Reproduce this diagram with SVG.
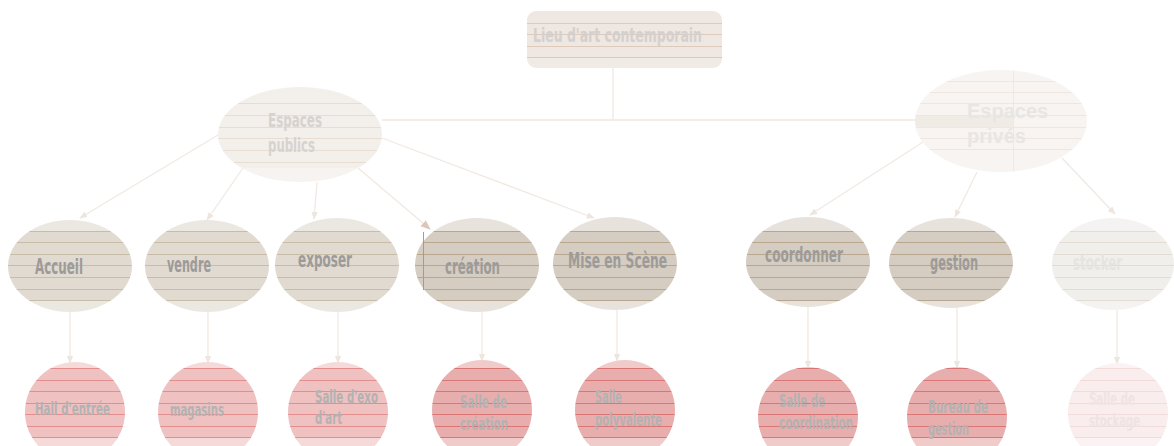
<svg xmlns="http://www.w3.org/2000/svg" width="1174" height="446" viewBox="0 0 1174 446">
<style>
.t{font-family:"DejaVu Sans","Liberation Sans",sans-serif;font-weight:bold;font-stretch:condensed}
.t2{font-size:21px;fill:#9d9b99}
.t3{font-size:18px;fill:#b3b2b2}
.tl{fill:#e6e4e2}
.tl3{fill:#f0e3e3}
.top{font-size:20px;fill:#d4d0cd}
.pub{font-size:19px;fill:#d6d3cf}
.priv{font-family:"Liberation Sans",Arial,sans-serif;font-weight:bold;font-size:20px;fill:#e8e6e4}
.c{fill:none;stroke:#f1e9e3;stroke-width:1.3}
</style>
<defs>
<marker id="ar" viewBox="0 0 10 10" refX="9" refY="5" markerWidth="8" markerHeight="8" markerUnits="userSpaceOnUse" orient="auto">
<path d="M0,1 L10,5 L0,9 z" fill="#eee5de"/>
</marker>
<marker id="ard" viewBox="0 0 10 10" refX="9" refY="5" markerWidth="10" markerHeight="10" markerUnits="userSpaceOnUse" orient="auto">
<path d="M0,1 L10,5 L0,9 z" fill="#dcc6b8"/>
</marker>
<pattern id="pTop" patternUnits="userSpaceOnUse" x="0" y="0" width="1174" height="446">
<rect width="1174" height="446" fill="#efe7e1"/>
<rect y="58" width="1174" height="12" fill="#f1ebe6"/>
<g fill="#dccabc"><rect y="23" width="1174" height="1"/><rect y="34" width="1174" height="1"/><rect y="46" width="1174" height="1"/><rect y="57" width="1174" height="1"/></g>
</pattern>
<pattern id="pPub" patternUnits="userSpaceOnUse" x="0" y="0" width="1174" height="446">
<rect width="1174" height="446" fill="#f3efeb"/>
<rect y="168" width="1174" height="20" fill="#f6f3f0"/>
<g fill="#e9ddd1"><rect y="103" width="1174" height="1"/><rect y="115" width="1174" height="1"/><rect y="127" width="1174" height="1"/><rect y="138" width="1174" height="1"/><rect y="150" width="1174" height="1"/><rect y="162" width="1174" height="1"/></g>
</pattern>
<pattern id="pPriv" patternUnits="userSpaceOnUse" x="0" y="0" width="1174" height="446">
<rect width="1174" height="446" fill="#f7f4f1"/>
<rect x="900" y="115" width="113" height="12" fill="#f1ebe5"/>
<rect x="1013" y="60" width="1" height="120" fill="#efe9e3"/>
<g fill="#efe7df"><rect y="81" width="1174" height="1"/><rect y="92" width="1174" height="1"/><rect y="103" width="1174" height="1"/><rect y="115" width="1174" height="1"/><rect y="127" width="1174" height="1"/><rect y="138" width="1174" height="1"/><rect y="149" width="1174" height="1"/></g>
</pattern>
<pattern id="pL2" patternUnits="userSpaceOnUse" x="0" y="0" width="1174" height="446">
<rect width="1174" height="446" fill="#ebe7e1"/>
<rect y="231" width="1174" height="70" fill="#e1dad0"/>
<g fill="#c8bca8"><rect y="231" width="1174" height="1"/><rect y="242" width="1174" height="1"/><rect y="254" width="1174" height="1"/><rect y="265" width="1174" height="1"/><rect y="277" width="1174" height="1"/><rect y="289" width="1174" height="1"/><rect y="300" width="1174" height="1"/></g>
</pattern>
<pattern id="pL2d" patternUnits="userSpaceOnUse" x="0" y="0" width="1174" height="446">
<rect width="1174" height="446" fill="#e7e2db"/>
<rect y="231" width="1174" height="70" fill="#d5cdc1"/>
<g fill="#b8a68e"><rect y="231" width="1174" height="1"/><rect y="242" width="1174" height="1"/><rect y="254" width="1174" height="1"/><rect y="265" width="1174" height="1"/><rect y="277" width="1174" height="1"/><rect y="289" width="1174" height="1"/><rect y="300" width="1174" height="1"/></g>
</pattern>
<pattern id="pL2l" patternUnits="userSpaceOnUse" x="0" y="0" width="1174" height="446">
<rect width="1174" height="446" fill="#f5f3f1"/>
<rect y="231" width="1174" height="70" fill="#f1efec"/>
<g fill="#e2dcd3"><rect y="231" width="1174" height="1"/><rect y="242" width="1174" height="1"/><rect y="254" width="1174" height="1"/><rect y="265" width="1174" height="1"/><rect y="277" width="1174" height="1"/><rect y="289" width="1174" height="1"/><rect y="300" width="1174" height="1"/></g>
</pattern>
<pattern id="pL3" patternUnits="userSpaceOnUse" x="0" y="0" width="1174" height="446">
<rect width="1174" height="446" fill="#f6dada"/>
<rect y="368" width="1174" height="70" fill="#efc1c1"/>
<g fill="#e28e8e"><rect y="368" width="1174" height="1"/><rect y="380" width="1174" height="1"/><rect y="391" width="1174" height="1"/><rect y="403" width="1174" height="1"/><rect y="414" width="1174" height="1"/><rect y="426" width="1174" height="1"/><rect y="437" width="1174" height="1"/></g>
</pattern>
<pattern id="pL3d" patternUnits="userSpaceOnUse" x="0" y="0" width="1174" height="446">
<rect width="1174" height="446" fill="#f1caca"/>
<rect y="368" width="1174" height="70" fill="#e8aeae"/>
<g fill="#d97777"><rect y="368" width="1174" height="1"/><rect y="380" width="1174" height="1"/><rect y="391" width="1174" height="1"/><rect y="403" width="1174" height="1"/><rect y="414" width="1174" height="1"/><rect y="426" width="1174" height="1"/><rect y="437" width="1174" height="1"/></g>
</pattern>
<pattern id="pL3l" patternUnits="userSpaceOnUse" x="0" y="0" width="1174" height="446">
<rect width="1174" height="446" fill="#fbf3f3"/>
<rect y="368" width="1174" height="70" fill="#f9eded"/>
<g fill="#f1dbdb"><rect y="368" width="1174" height="1"/><rect y="380" width="1174" height="1"/><rect y="391" width="1174" height="1"/><rect y="403" width="1174" height="1"/><rect y="414" width="1174" height="1"/><rect y="426" width="1174" height="1"/><rect y="437" width="1174" height="1"/></g>
</pattern>
</defs>
<rect width="1174" height="446" fill="#ffffff"/>

<g id="connectors">
<path class="c" d="M613,68 V120"/>
<path class="c" d="M382,120 H917"/>
<path class="c" d="M218,135 L80,218" marker-end="url(#ar)"/>
<path class="c" d="M243,168 L207,220" marker-end="url(#ar)"/>
<path class="c" d="M317,182 L314,219" marker-end="url(#ar)"/>
<path class="c" d="M358,168 L430,229" stroke="#ecdfd5" marker-end="url(#ard)"/>
<path class="c" d="M382,138 L594,218" marker-end="url(#ar)"/>
<path class="c" d="M923,142 L810,215" marker-end="url(#ar)"/>
<path class="c" d="M977,172 L955,217" marker-end="url(#ar)"/>
<path class="c" d="M1062,158 L1115,214" stroke="#f6f2ef" marker-end="url(#ar)"/>
<path class="c" d="M70,312 V363" marker-end="url(#ar)"/>
<path class="c" d="M208,312 V363" marker-end="url(#ar)"/>
<path class="c" d="M338,312 V363" marker-end="url(#ar)"/>
<path class="c" d="M482,312 V361" marker-end="url(#ar)"/>
<path class="c" d="M617,310 V361" marker-end="url(#ar)"/>
<path class="c" d="M808,307 V368" marker-end="url(#ar)"/>
<path class="c" d="M957,308 V368" marker-end="url(#ar)"/>
<path class="c" d="M1117,310 V364" stroke="#f6f2ef" marker-end="url(#ar)"/>
</g>

<g id="n-lieu">
<rect x="527" y="11" width="195" height="57" rx="9" fill="url(#pTop)"/>
<text class="t top" x="533" y="42" textLength="169" lengthAdjust="spacingAndGlyphs">Lieu d'art contemporain</text>
</g>
<g id="n-publics">
<ellipse cx="300" cy="134.5" rx="82" ry="47.5" fill="url(#pPub)"/>
<text class="t pub" x="268" y="127" textLength="54" lengthAdjust="spacingAndGlyphs">Espaces</text>
<text class="t pub" x="268" y="152" textLength="47" lengthAdjust="spacingAndGlyphs">publics</text>
</g>
<g id="n-prives">
<ellipse cx="1001" cy="121" rx="86" ry="51" fill="url(#pPriv)"/>
<text class="priv" x="967" y="118">Espaces</text>
<text class="priv" x="967" y="143">privés</text>
</g>

<g id="n-accueil">
<ellipse cx="70" cy="266" rx="62" ry="46" fill="url(#pL2)"/>
<text class="t t2" x="35" y="274" textLength="48" lengthAdjust="spacingAndGlyphs">Accueil</text>
</g>
<g id="n-vendre">
<ellipse cx="207" cy="266" rx="62" ry="46" fill="url(#pL2)"/>
<text class="t t2" x="167" y="272" textLength="44" lengthAdjust="spacingAndGlyphs">vendre</text>
</g>
<g id="n-exposer">
<ellipse cx="337" cy="265" rx="62" ry="47" fill="url(#pL2)"/>
<text class="t t2" x="298" y="267" textLength="54" lengthAdjust="spacingAndGlyphs">exposer</text>
</g>
<g id="n-creation">
<ellipse cx="477" cy="265" rx="62" ry="47" fill="url(#pL2d)"/>
<rect x="423" y="232" width="1" height="58" fill="#a99b88"/>
<text class="t t2" x="445" y="274" textLength="55" lengthAdjust="spacingAndGlyphs">création</text>
</g>
<g id="n-mise">
<ellipse cx="615" cy="263.5" rx="62" ry="46.5" fill="url(#pL2d)"/>
<text class="t t2" x="568" y="268" textLength="99" lengthAdjust="spacingAndGlyphs">Mise en Scène</text>
</g>
<g id="n-coordonner">
<ellipse cx="808" cy="262" rx="62" ry="45" fill="url(#pL2d)"/>
<text class="t t2" x="765" y="262" textLength="78" lengthAdjust="spacingAndGlyphs">coordonner</text>
</g>
<g id="n-gestion">
<ellipse cx="951" cy="263" rx="62" ry="45" fill="url(#pL2d)"/>
<text class="t t2" x="930" y="270" textLength="48" lengthAdjust="spacingAndGlyphs">gestion</text>
</g>
<g id="n-stocker">
<ellipse cx="1113" cy="264" rx="61" ry="46" fill="url(#pL2l)"/>
<text class="t t2 tl" x="1073" y="270" textLength="49" lengthAdjust="spacingAndGlyphs">stocker</text>
</g>

<g id="n-hall">
<ellipse cx="75" cy="412" rx="50" ry="50" fill="url(#pL3)"/>
<text class="t t3" x="35" y="415" textLength="75" lengthAdjust="spacingAndGlyphs">Hall d'entrée</text>
</g>
<g id="n-magasins">
<ellipse cx="208" cy="412" rx="50" ry="50" fill="url(#pL3)"/>
<text class="t t3" x="170" y="416" textLength="54" lengthAdjust="spacingAndGlyphs">magasins</text>
</g>
<g id="n-salle-exo">
<ellipse cx="338" cy="412" rx="50" ry="50" fill="url(#pL3)"/>
<text class="t t3" x="315" y="403" textLength="63" lengthAdjust="spacingAndGlyphs">Salle d'exo</text>
<text class="t t3" x="315" y="424" textLength="27" lengthAdjust="spacingAndGlyphs">d'art</text>
</g>
<g id="n-salle-creation">
<ellipse cx="482" cy="410" rx="50" ry="50" fill="url(#pL3d)"/>
<text class="t t3" x="460" y="408" textLength="47" lengthAdjust="spacingAndGlyphs">Salle de</text>
<text class="t t3" x="460" y="430" textLength="48" lengthAdjust="spacingAndGlyphs">création</text>
</g>
<g id="n-salle-poly">
<ellipse cx="625" cy="410" rx="50" ry="50" fill="url(#pL3d)"/>
<text class="t t3" x="595" y="403" textLength="27" lengthAdjust="spacingAndGlyphs">Salle</text>
<text class="t t3" x="595" y="426" textLength="67" lengthAdjust="spacingAndGlyphs">polyvalente</text>
</g>
<g id="n-salle-coord">
<ellipse cx="808" cy="417" rx="50" ry="50" fill="url(#pL3d)"/>
<text class="t t3" x="779" y="407" textLength="46" lengthAdjust="spacingAndGlyphs">Salle de</text>
<text class="t t3" x="779" y="429" textLength="74" lengthAdjust="spacingAndGlyphs">coordination</text>
</g>
<g id="n-bureau">
<ellipse cx="957" cy="417" rx="50" ry="50" fill="url(#pL3d)"/>
<text class="t t3" x="928" y="413" textLength="60" lengthAdjust="spacingAndGlyphs">Bureau de</text>
<text class="t t3" x="928" y="435" textLength="41" lengthAdjust="spacingAndGlyphs">gestion</text>
</g>
<g id="n-stockage">
<ellipse cx="1118" cy="413" rx="50" ry="50" fill="url(#pL3l)"/>
<text class="t t3 tl3" x="1089" y="405" textLength="46" lengthAdjust="spacingAndGlyphs">Salle de</text>
<text class="t t3 tl3" x="1089" y="427" textLength="51" lengthAdjust="spacingAndGlyphs">stockage</text>
</g>
</svg>
